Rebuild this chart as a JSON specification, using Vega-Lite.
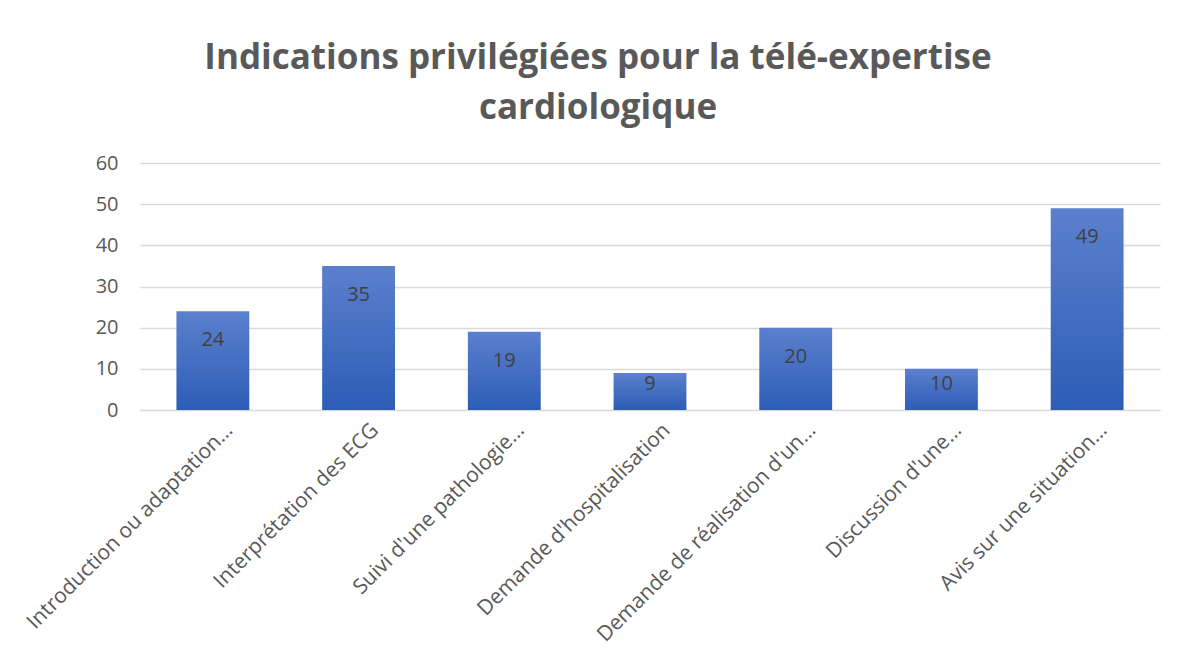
{
  "$schema": "https://vega.github.io/schema/vega-lite/v6.json",
  "autosize": "none",
  "width": 1020,
  "height": 247,
  "padding": {"left": 140, "top": 163, "right": 24, "bottom": 248},
  "background": "white",
  "title": {
    "text": ["Indications privilégiées pour la télé-expertise", "cardiologique"],
    "font": "Open Sans",
    "fontSize": 35,
    "fontWeight": "bold",
    "color": "#595959",
    "lineHeight": 50,
    "anchor": "middle",
    "frame": "group",
    "dx": -52,
    "offset": 27
  },
  "config": {
    "view": {"stroke": null},
    "axis": {"labelFont": "Open Sans", "labelColor": "#595959", "labelFontSize": 20}
  },
  "data": {
    "values": [
      {"cat": "Introduction ou adaptation…", "v": 24},
      {"cat": "Interprétation des ECG", "v": 35},
      {"cat": "Suivi d'une pathologie…", "v": 19},
      {"cat": "Demande d'hospitalisation", "v": 9},
      {"cat": "Demande de réalisation d'un…", "v": 20},
      {"cat": "Discussion d'une…", "v": 10},
      {"cat": "Avis sur une situation…", "v": 49}
    ]
  },
  "encoding": {
    "x": {
      "field": "cat", "type": "nominal", "sort": null, "title": null,
      "scale": {"paddingInner": 0.5, "paddingOuter": 0.25},
      "axis": {"labelAngle": -45, "ticks": false, "domain": true, "domainColor": "#D9D9D9", "labelPadding": 9, "labelOffset": 9, "labelLimit": 400, "labelFontSize": 21}
    },
    "y": {
      "field": "v", "type": "quantitative", "title": null,
      "scale": {"domain": [0, 60]},
      "axis": {"values": [0, 10, 20, 30, 40, 50, 60], "domain": false, "ticks": false, "gridColor": "#D9D9D9", "gridWidth": 1.3, "labelPadding": 22}
    }
  },
  "layer": [
    {
      "mark": {
        "type": "bar",
        "color": {
          "gradient": "linear", "x1": 0, "y1": 0, "x2": 0, "y2": 1,
          "stops": [{"offset": 0, "color": "#5B80CD"}, {"offset": 1, "color": "#2D5DB6"}]
        }
      }
    },
    {
      "transform": [{"filter": "datum.v >= 15"}],
      "mark": {"type": "text", "baseline": "middle", "dy": 29, "font": "Open Sans", "fontSize": 20, "color": "#404040"},
      "encoding": {"text": {"field": "v", "type": "quantitative"}}
    },
    {
      "transform": [{"filter": "datum.v < 15"}],
      "mark": {"type": "text", "baseline": "middle", "dy": -26, "font": "Open Sans", "fontSize": 20, "color": "#404040"},
      "encoding": {"y": {"datum": 0}, "text": {"field": "v", "type": "quantitative"}}
    }
  ]
}
